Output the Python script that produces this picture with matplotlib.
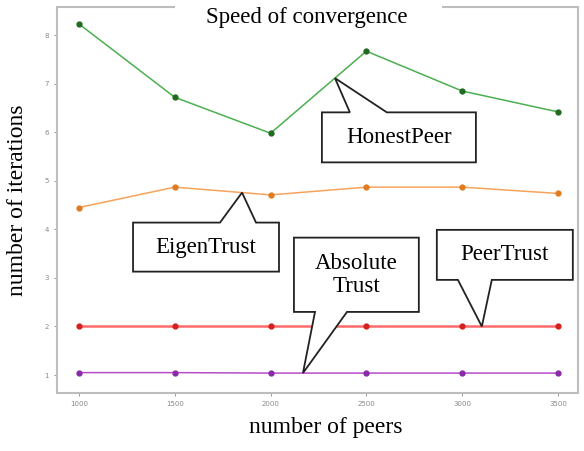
import matplotlib
matplotlib.use('Agg')
import matplotlib.pyplot as plt
from matplotlib.patches import Polygon, Rectangle
import numpy as np

# data
peers = [1000, 1500, 2000, 2500, 3000, 3500]
honest_peer = [8.23, 6.72, 5.98, 7.67, 6.85, 6.42]
eigen_trust = [4.45, 4.87, 4.71, 4.87, 4.87, 4.74]
peer_trust = [2.0, 2.0, 2.0, 2.0, 2.0, 2.0]
absolute_trust = [1.05, 1.05, 1.04, 1.04, 1.04, 1.04]
y_ticks = [1, 2, 3, 4, 5, 6, 7, 8]

serif = 'Liberation Serif'

fig = plt.figure(figsize=(5.84, 4.51), dpi=100)
ax = fig.add_axes([57/584, 58/451, 521/584, 386/451])

#draw the four series
ax.plot(peers, honest_peer, color='#4caf50', lw=1.1, marker='o', ms=3.5,
        mfc='#1f6b1f', mec='#1f6b1f')
ax.plot(peers, eigen_trust, color='#f7a35c', lw=1.1, marker='o', ms=3.5,
        mfc='#e07b20', mec='#e07b20')
ax.plot(peers, peer_trust, color='#ff6b6b', lw=1.8, marker='o', ms=3.5,
        mfc='#d62020', mec='#d62020')
ax.plot(peers, absolute_trust, color='#b84cc8', lw=1.1, marker='o', ms=3.5,
        mfc='#8a2aa8', mec='#8a2aa8')

ax.set_xlim(885, 3605)
ax.set_ylim(0.63, 8.58)
ax.set_xticks(peers)
ax.set_yticks(y_ticks)
ax.tick_params(labelsize=5, colors='#888888', length=2.5, width=0.6)
for s in ax.spines.values():
    s.set_color('#bdbdbd')
    s.set_linewidth(1.5)

#axis labels
fig.text(249/584, 1 - 428/451, 'number of peers', family=serif, fontsize=17,
         va='center', ha='left')
fig.text(18/584, 1 - 200/451, 'number of iterations', family=serif, fontsize=17,
         rotation=90, va='center', ha='center')

#title sits in a white box over the top spine
fig.patches.append(Rectangle((175/584, 1 - 30/451), 267/584, 30/451,
                             transform=fig.transFigure, facecolor='white',
                             edgecolor='none', zorder=5))
fig.text(307/584, 1 - 17/451, 'Speed of convergence', family=serif,
         fontsize=16.5, ha='center', va='center', zorder=6)


#callout boxes: box corners and tail base in data units, tip on the series
def callout(text, x0, x1, y0, y1, base0, base1, tip_x, series, tail_top):
    tip_y = np.interp(tip_x, peers, series)
    if tail_top:
        pts = [(x0, y0), (x1, y0), (x1, y1), (base1, y1), (tip_x, tip_y),
               (base0, y1), (x0, y1)]
    else:
        pts = [(x0, y0), (base0, y0), (tip_x, tip_y), (base1, y0), (x1, y0),
               (x1, y1), (x0, y1)]
    ax.add_patch(Polygon(pts, closed=True, facecolor='white',
                         edgecolor='#222222', lw=1.3, zorder=4))
    ax.text((x0 + x1) / 2, (y0 + y1) / 2, text, family=serif, fontsize=16.5,
            ha='center', va='center', zorder=5, linespacing=1.1)


callout('HonestPeer', 2268, 3072, 5.38, 6.41, 2414, 2607, 2336, honest_peer, True)
callout('EigenTrust', 1282, 2044, 3.13, 4.14, 1736, 1924, 1851, eigen_trust, True)
callout('Absolute\nTrust', 2122, 2774, 2.30, 3.83, 2232, 2399, 2169, absolute_trust, False)
callout('PeerTrust', 2868, 3578, 2.96, 3.99, 2978, 3155, 3103, peer_trust, False)

fig.savefig('out.png', dpi=100)
